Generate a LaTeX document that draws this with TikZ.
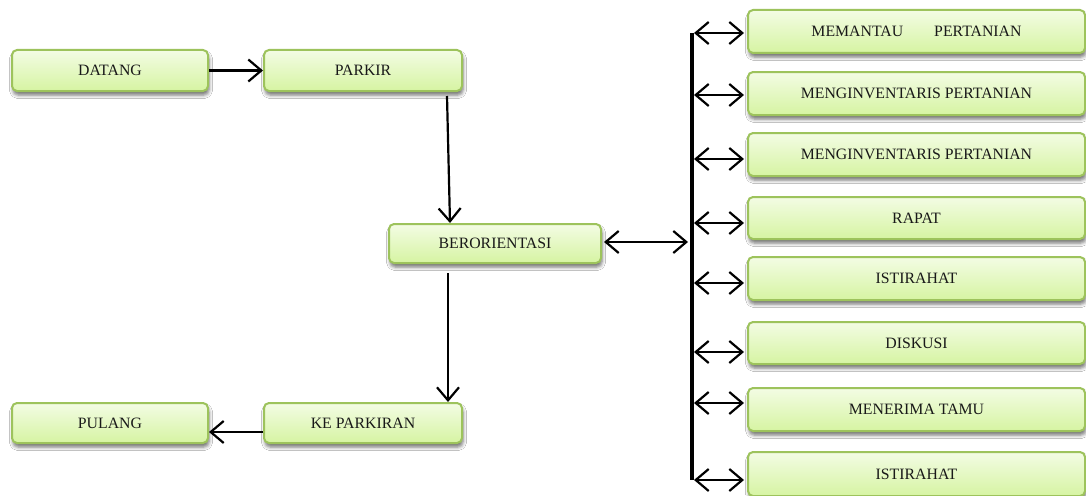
\documentclass[tikz,border=0pt]{standalone}
\usepackage{fontspec}
\setmainfont{Liberation Serif}
\usetikzlibrary{arrows.meta,shadows.blur}
\definecolor{boxtop}{HTML}{F3FCE4}
\definecolor{boxbot}{HTML}{D6F4A2}
\definecolor{boxline}{HTML}{9DC35C}
\tikzset{
  box/.style={draw=boxline, line width=2pt, rounded corners=5pt,
    top color=boxtop, bottom color=boxbot, inner sep=0pt,
    font=\fontsize{15.8}{18}\selectfont, text=black!90,
    blur shadow={shadow xshift=1pt, shadow yshift=-4pt,
      shadow blur radius=3.5pt, shadow opacity=55}},
  lbox/.style={box, minimum width=196pt, minimum height=41pt},
  rbox/.style={box, minimum width=337pt, minimum height=43pt},
  barb/.tip={Straight Barb[length=13pt,width=22pt,line width=2.2pt]},
  flow/.style={line width=2.2pt, -barb},
  dflow/.style={line width=2.2pt, barb-barb},
}
\begin{document}
\begin{tikzpicture}[x=1pt,y=-1pt]
\useasboundingbox (0,0) rectangle (1086,495);
\fill[white] (0,0) rectangle (1086,495);

% main flow
\node[lbox] (datang) at (110,70.5) {DATANG};
\node[lbox, minimum width=198pt] (parkir) at (363,70.5) {PARKIR};
\node[box, minimum width=212pt, minimum height=39pt] (orient) at (495,243.5) {BERORIENTASI};
\node[lbox, minimum height=40pt] (pulang) at (110,423) {PULANG};
\node[lbox, minimum width=198pt, minimum height=40pt] (kepark) at (363,423) {KE PARKIRAN};

% activities
\node[rbox] (r1) at (916.5,31.5) {MEMANTAU\hspace{31pt}PERTANIAN};
\node[rbox] (r2) at (916.5,93.5) {MENGINVENTARIS PERTANIAN};
\node[rbox] (r3) at (916.5,154.5) {MENGINVENTARIS PERTANIAN};
\node[rbox, minimum height=42pt] (r4) at (916.5,218) {RAPAT};
\node[rbox] (r5) at (916.5,278.5) {ISTIRAHAT};
\node[rbox, minimum height=42pt] (r6) at (916.5,343) {DISKUSI};
\node[rbox] (r7) at (916.5,409.5) {MENERIMA TAMU};
\node[rbox, minimum height=44pt] (r8) at (916.5,474) {ISTIRAHAT};

% connectors of the main flow
\draw[flow] (datang.east) -- (parkir.west);
\draw[flow] ([xshift=84pt,yshift=-4pt]parkir.south) -- ([xshift=-45pt]orient.north);
\draw[flow] ([xshift=-47pt,yshift=-9pt]orient.south) -- ([xshift=85pt]kepark.north);
\draw[flow] ([yshift=-9pt]kepark.west) -- ([yshift=-9pt]pulang.east);

% distribution bar
\coordinate (bartop) at (692,33);
\coordinate (barbot) at (692,480);
\draw[line width=4pt] (bartop) -- (barbot);
\coordinate (bj) at (688,242);
\draw[dflow] ([xshift=2pt]orient.east |- bj) -- (bj);

\foreach \r/\y in {r1/33, r2/95, r3/159, r4/223, r5/283, r6/352, r7/403, r8/480}{
  \coordinate (j\r) at (694,\y);
  \draw[dflow] (j\r) -- ([xshift=-3pt]j\r -| \r.west);
}
\end{tikzpicture}
\end{document}
